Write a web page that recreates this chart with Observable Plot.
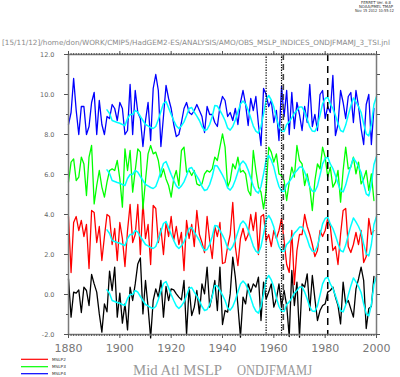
<!DOCTYPE html>
<html><head><meta charset="utf-8">
<script src="https://cdn.jsdelivr.net/npm/d3@7"></script>
<script src="https://cdn.jsdelivr.net/npm/@observablehq/plot@0.6"></script>
<style>
body{margin:0;background:#fff;}
#wrap{position:relative;width:400px;height:377px;overflow:hidden;}
#chart{position:absolute;left:0;top:0;}
.ov{position:absolute;left:0;top:0;pointer-events:none;}
</style></head><body>
<div id="wrap"><div id="chart"></div>
<svg class="ov" width="400" height="377" font-family="DejaVu Sans, sans-serif">
  <text x="2" y="45" font-size="7.2" fill="#8a8a8a" textLength="388" lengthAdjust="spacingAndGlyphs">[15/11/12]/home/don/WORK/CMIP5/HadGEM2-ES/ANALYSIS/AMO/OBS_MSLP_INDICES_ONDJFMAMJ_3_TSI.jnl</text>
  <g font-size="4" fill="#333">
    <text x="361" y="4.4" textLength="30" lengthAdjust="spacingAndGlyphs">FERRET Ver. 6.8</text>
    <text x="359" y="8.4" textLength="34" lengthAdjust="spacingAndGlyphs">NOAA/PMEL TMAP</text>
    <text x="355" y="12.4" textLength="39" lengthAdjust="spacingAndGlyphs">Nov 15 2012 10:55:12</text>
  </g>
  <g font-family="Liberation Serif, serif" font-size="14" fill="#999">
    <text x="133" y="375.3" textLength="89" lengthAdjust="spacingAndGlyphs">Mid Atl MSLP</text>
    <text x="237" y="375.3" textLength="75" lengthAdjust="spacingAndGlyphs">ONDJFMAMJ</text>
  </g>
  <g id="legend" font-size="4.2" fill="#222"></g>
</svg>
</div>
<script>
// ---- data (annual values, 1880-1999) ----
const startYear = 1880;
const mslp1 = [0.78,-1.13,0.12,0.07,0.23,-0.9,0.37,0.2,-0.55,1.0,
 0.53,0.12,-0.97,-1.88,-0.47,-0.87,1.17,0.2,1.37,-1.13,
 0.07,-1.43,-0.47,-1.77,0.37,-0.3,0.53,1.53,1.83,-0.97,
 0.7,-0.63,-2.17,-0.3,0.28,-0.13,0.7,-1.13,0.4,-0.3,
 0.28,0.23,0.03,-0.13,-0.27,0.7,-2.0,0.37,-1.05,-0.63,
 0.2,-0.97,0.53,0.03,1.37,-0.63,-0.05,0.7,-0.8,1.37,
 -1.5,-0.8,-0.88,0.03,1.87,0.87,-0.55,-2.13,-0.13,-0.47,
 0.53,0.12,0.53,0.37,0.87,-1.3,0.62,-0.22,0.12,0.53,
 -0.63,-0.22,0.53,-0.63,0.2,-0.55,-2.1,1.2,-0.55,0.62,
 -2.13,0.53,0.37,1.03,-0.8,0.95,-0.22,-1.3,-0.8,-0.55,
 -0.47,0.12,0.2,0.37,-0.13,-0.55,-1.47,0.62,-0.47,-0.3,
 -0.72,-1.13,0.28,0.78,1.37,0.7,-1.7,-0.7,-0.6,0.9];
const mslp2 = [3.9,1.1,3.6,3.9,3.2,3.7,2.9,3.5,1.3,4.2,
 4.1,2.6,3.4,1.7,2.9,4.0,3.9,2.5,3.3,1.7,
 3.6,2.8,1.4,3.2,4.5,2.6,3.0,4.5,2.0,4.6,
 2.8,3.5,1.5,4.45,4.3,2.6,3.3,2.0,3.6,2.9,
 3.9,2.7,3.4,2.5,3.1,1.2,3.7,2.8,3.5,2.4,
 4.2,3.0,2.6,2.1,3.9,2.7,1.8,3.4,2.9,3.6,
 1.55,1.6,2.4,3.0,4.6,2.4,1.45,2.8,3.3,2.7,
 3.0,4.0,3.2,4.1,2.0,3.9,4.0,2.7,3.0,2.4,
 3.2,2.8,3.2,3.8,2.7,1.5,1.1,3.2,0.5,2.2,
 3.0,3.0,4.0,3.4,3.0,2.5,1.9,2.2,3.2,2.9,
 3.2,3.8,3.4,2.2,2.4,1.5,3.0,4.2,4.3,2.4,
 2.1,2.5,3.1,2.5,3.2,1.6,1.9,3.8,3.0,3.2];
const mslp3 = [5.62,6.62,6.78,5.7,5.87,6.87,6.53,4.95,6.87,7.45,
 4.53,5.45,6.2,5.37,4.87,5.62,6.2,6.28,6.2,6.7,
 5.78,4.37,7.28,6.2,7.2,5.12,6.2,7.28,7.12,4.28,
 5.7,7.03,7.45,7.03,7.12,6.7,5.87,6.28,5.78,5.45,
 4.87,5.78,6.2,5.45,7.2,7.37,6.12,6.2,5.95,6.2,
 5.53,5.45,5.53,6.03,6.2,6.12,6.28,6.87,6.7,7.37,
 8.03,7.37,5.37,5.7,6.53,6.28,6.87,6.12,6.2,6.03,
 5.2,4.95,7.2,6.2,5.37,5.12,4.28,5.2,7.37,7.12,
 6.62,7.03,6.03,5.95,5.7,4.7,5.62,6.37,5.87,7.45,
 6.7,6.53,5.45,6.03,5.37,4.2,5.7,6.53,6.28,7.37,
 6.87,5.87,6.37,5.37,5.62,6.2,4.62,6.2,7.37,6.28,
 6.37,6.87,6.03,6.62,5.53,5.78,6.2,5.2,6.03,4.7];
const mslp4 = [8.5,9.1,10.8,9.2,8.0,9.4,9.4,8.0,8.4,9.6,
 10.1,8.0,9.7,8.5,8.0,8.9,8.8,9.5,9.3,8.7,
 9.6,9.3,8.0,8.2,10.5,8.0,10.2,9.1,8.8,7.4,
 8.7,9.6,7.7,10.3,11.0,10.2,7.4,8.9,10.45,9.8,
 9.3,8.5,7.9,8.0,8.6,9.3,9.6,9.1,9.0,9.2,
 9.5,9.2,8.9,8.1,9.4,9.0,9.0,8.6,8.4,9.4,
 9.9,9.7,8.9,9.1,8.7,9.3,8.5,9.6,10.2,9.5,
 8.45,9.8,9.2,9.9,8.5,7.45,10.3,10.0,9.4,9.7,
 8.6,9.2,7.7,10.4,8.9,10.2,8.0,10.1,8.3,9.6,
 9.0,8.2,9.4,8.6,10.5,8.4,9.0,8.2,10.0,10.2,
 8.8,9.4,9.1,10.95,7.95,8.5,10.2,9.6,8.8,9.9,
 10.1,8.6,10.2,9.4,8.3,7.5,9.5,10.0,7.5,9.3];
// smoothed index (cyan), 1895-2000, drawn in each band
const smoothStart = 1895;
const smooth = [0.23,0.05,-0.3,-0.35,-0.4,-0.44,-0.5,-0.55,-0.2,0.0,
 0.0,0.2,0.12,-0.1,-0.3,-0.5,-0.57,-0.65,-0.7,-0.6,
 -0.25,0.15,0.55,0.65,0.33,0.0,-0.3,-0.57,-0.7,-0.57,
 -0.37,-0.05,0.3,0.35,0.12,-0.08,-0.3,-0.6,-0.8,-0.75,
 -0.5,-0.1,0.45,0.42,0.2,-0.03,-0.3,-0.67,-0.78,-0.6,
 -0.27,0.13,0.53,0.67,0.53,0.22,-0.18,-0.58,-0.83,-0.93,
 -0.6,0.03,0.73,0.95,0.73,0.37,-0.17,-0.6,-0.83,-0.85,
 -0.5,-0.37,-0.17,0.07,0.2,0.37,0.37,0.13,-0.22,-0.62,
 -0.83,-0.85,-0.57,-0.03,0.53,0.8,0.87,0.53,0.3,-0.05,
 -0.45,-0.8,-0.87,-0.53,-0.03,0.43,0.83,0.63,0.4,0.1,
 -0.47,-0.97,-1.07,-0.5,0.5,0.9];
const bandOffsets = [0, 3, 6, 9];
const seriesColors = ["#000000", "#ff0000", "#00ff00", "#0000ff"];
const eventDotted = [1957, 1963];
const eventDashedGrey = [1963.7];
const eventDashed = [1981];
const xTicksMajor = [1880,1900,1920,1940,1960,1980,2000];
const yTicksMajor = [-2,0,2,4,6,8,10,12];
const legendNames = ["MSLP2","MSLP3","MSLP4"];
const legendColors = ["#ff0000","#00ff00","#0000ff"];

const toRows = (arr, y0, off = 0) => arr.map((v, i) => ({year: y0 + i, v: v + off}));
const series = [mslp1, mslp2, mslp3, mslp4];

const chart = Plot.plot({
  width: 400, height: 377,
  marginLeft: 68, marginRight: 24, marginTop: 54, marginBottom: 43,
  style: {background: "transparent", fontFamily: "DejaVu Sans, sans-serif"},
  x: {domain: [1880, 2000]},
  y: {domain: [-2, 12]},
  marks: [
    ...series.map((s, i) => Plot.line(toRows(s, startYear), {x: "year", y: "v", stroke: seriesColors[i], strokeWidth: 1.3})),
    ...bandOffsets.map(o => Plot.line(toRows(smooth, smoothStart, o), {x: "year", y: "v", stroke: "#00ffff", strokeWidth: 1.5})),
    Plot.ruleX(eventDotted, {stroke: "#000", strokeWidth: 1.2, strokeDasharray: "1.3,1.3"}),
    Plot.ruleX(eventDashedGrey, {stroke: "#444", strokeWidth: 1.6, strokeDasharray: "6,4"}),
    Plot.ruleX(eventDashed, {stroke: "#000", strokeWidth: 1.5, strokeDasharray: "7,5"}),
    Plot.frame({stroke: "#7a7a7a", strokeWidth: 1.5}),
    Plot.axisX({anchor: "bottom", ticks: d3.range(1880, 2001), tickSize: 2, tickFormat: () => "", stroke: "#555", label: null}),
    Plot.axisX({anchor: "top", ticks: d3.range(1880, 2001), tickSize: 2, tickFormat: () => "", stroke: "#555", label: null}),
    Plot.axisX({anchor: "bottom", ticks: xTicksMajor, tickSize: 4, tickPadding: 6, tickFormat: d => String(d), fontSize: 11, color: "#777", stroke: "#555", label: null}),
    Plot.axisX({anchor: "top", ticks: xTicksMajor, tickSize: 4, tickFormat: () => "", stroke: "#555", label: null}),
    Plot.axisY({anchor: "left", ticks: d3.range(-2, 13), tickSize: 2, tickFormat: () => "", stroke: "#555", label: null}),
    Plot.axisY({anchor: "left", ticks: yTicksMajor, tickSize: 4, tickPadding: 10, tickFormat: d => d.toFixed(1), fontSize: 6.5, color: "#666", stroke: "#555", label: null}),
    Plot.axisY({anchor: "right", ticks: d3.range(-2, 13), tickSize: 3, tickFormat: () => "", stroke: "#555", label: null})
  ]
});
document.getElementById("chart").appendChild(chart);

const ns = "http://www.w3.org/2000/svg";
const lg = document.getElementById("legend");
const ys = [359.3, 366.7, 373.7];
legendNames.forEach((n, i) => {
  const ln = document.createElementNS(ns, "line");
  ln.setAttribute("x1", 21); ln.setAttribute("x2", 48);
  ln.setAttribute("y1", ys[i]); ln.setAttribute("y2", ys[i]);
  ln.setAttribute("stroke", legendColors[i]); ln.setAttribute("stroke-width", 1.2);
  lg.appendChild(ln);
  const t = document.createElementNS(ns, "text");
  t.setAttribute("x", 52); t.setAttribute("y", ys[i] + 1.5);
  t.textContent = n;
  lg.appendChild(t);
});
</script>
</body></html>
